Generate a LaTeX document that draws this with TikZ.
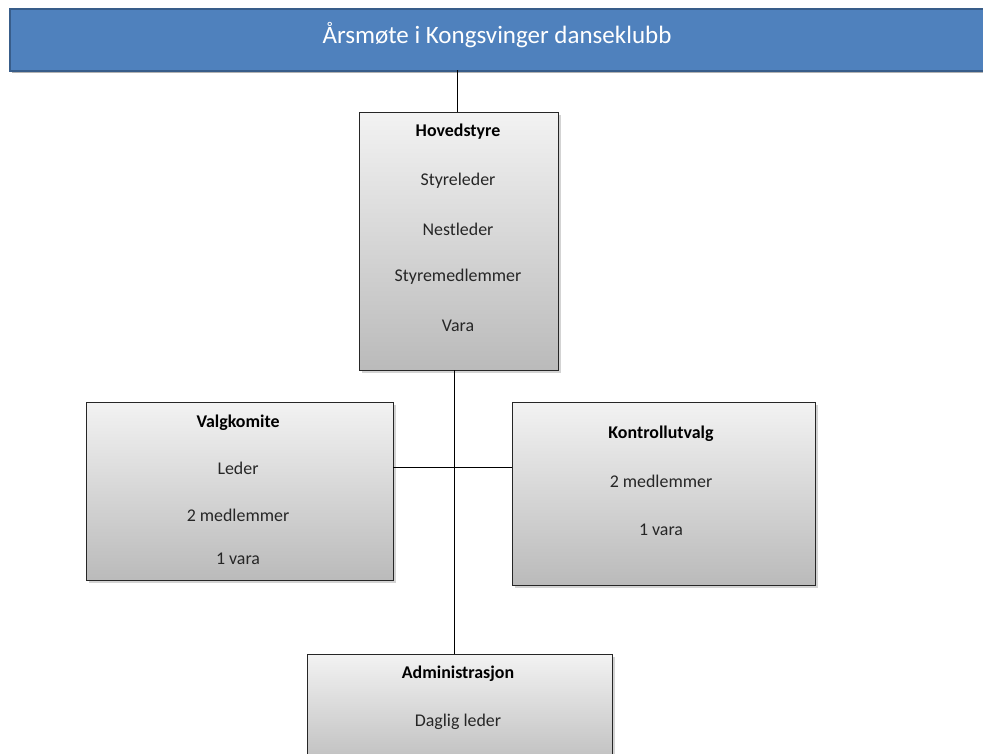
\documentclass[tikz,border=0pt]{standalone}
\usepackage{fontspec}
\setmainfont{Carlito}
\usetikzlibrary{shadows}
\definecolor{titleblue}{HTML}{4F81BD}
\definecolor{titleedge}{HTML}{385D8A}
\definecolor{txtgrey}{HTML}{262626}
\tikzset{
  x=1pt, y=-1pt,
  orgbox/.style={draw=black!85, line width=1.2pt, top color=black!5, bottom color=black!27,
    drop shadow={shadow xshift=2pt, shadow yshift=-2pt, opacity=0.35}},
  hdr/.style={font=\fontsize{17.9}{20}\selectfont\bfseries, text=black},
  item/.style={font=\fontsize{17.9}{20}\selectfont, text=txtgrey},
  conn/.style={draw=black, line width=1pt}
}
\begin{document}
\begin{tikzpicture}
\useasboundingbox (0,0) rectangle (983,753);
% title bar
\fill[black!30] (12,11) rectangle (995,73);
\node[draw=titleedge, line width=1.5pt, fill=titleblue, anchor=north west, minimum width=985pt, minimum height=62pt, inner sep=0pt] (top) at (9,8) {};
\node[font=\fontsize{25}{28}\selectfont, text=white] (toptxt) at (497,35) {Årsmøte i Kongsvinger danseklubb};
% boxes
\node[orgbox, anchor=north west, minimum width=199pt, minimum height=258pt, inner sep=0pt] (hs) at (359,112) {};
\node[orgbox, anchor=north west, minimum width=307pt, minimum height=178pt, inner sep=0pt] (vk) at (86,402) {};
\node[orgbox, anchor=north west, minimum width=303pt, minimum height=183pt, inner sep=0pt] (ku) at (512,402) {};
\node[orgbox, anchor=north west, minimum width=305pt, minimum height=120pt, inner sep=0pt] (ad) at (307,654) {};
% connectors
\coordinate (hsTop) at (457,112);
\coordinate (hsBot) at (454,370);
\coordinate (adTop) at (454,654);
\coordinate (midL) at (393,467);
\coordinate (midR) at (512,467);
\draw[conn] (457,70) -- (hsTop);
\draw[conn] (hsBot) -- (adTop);
\draw[conn] (midL) -- (midR);
% texts
\node[hdr] (t1) at (458,132) {Hovedstyre};
\node[item] (t2) at (458,181) {Styreleder};
\node[item] (t3) at (458,229) {Nestleder};
\node[item] (t4) at (458,277) {Styremedlemmer};
\node[item] (t5) at (458,326) {Vara};
\node[hdr] (v1) at (238,423) {Valgkomite};
\node[item] (v2) at (238,468) {Leder};
\node[item] (v3) at (238,515) {2 medlemmer};
\node[item] (v4) at (238,559) {1 vara};
\node[hdr] (k1) at (661,434) {Kontrollutvalg};
\node[item] (k2) at (661,481) {2 medlemmer};
\node[item] (k3) at (661,530) {1 vara};
\node[hdr] (a1) at (458,674) {Administrasjon};
\node[item] (a2) at (458,722) {Daglig leder};
\end{tikzpicture}
\end{document}
